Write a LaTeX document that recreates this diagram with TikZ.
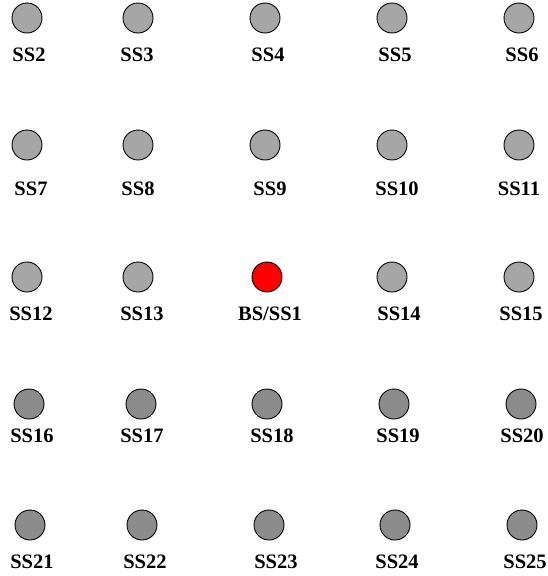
\documentclass[tikz,border=0pt]{standalone}
\usepackage{fontspec}
\setmainfont{Liberation Serif}
\begin{document}
\begin{tikzpicture}[x=1pt,y=-1pt,
  ss/.style={circle,draw=black,line width=0.9pt,fill=#1,minimum size=30pt,inner sep=0pt},
  lbl/.style={anchor=base,inner sep=0pt,font=\fontsize{20.5}{21}\selectfont\bfseries}]
\definecolor{lightss}{HTML}{A6A6A6}
\definecolor{darkss}{HTML}{8C8C8C}
\definecolor{bsred}{HTML}{FF0000}
\useasboundingbox (0,0) rectangle (548,576);
% row 1
\node[ss=lightss] (n2) at (27,18) {};
\node[ss=lightss] (n3) at (138,18) {};
\node[ss=lightss] (n4) at (265,18) {};
\node[ss=lightss] (n5) at (392,18) {};
\node[ss=lightss] (n6) at (519,18) {};
\node[lbl] (l2) at (29,61) {SS2};
\node[lbl] (l3) at (137,61) {SS3};
\node[lbl] (l4) at (268,61) {SS4};
\node[lbl] (l5) at (395,61) {SS5};
\node[lbl] (l6) at (522,61) {SS6};
% row 2
\node[ss=lightss] (n7) at (27,145) {};
\node[ss=lightss] (n8) at (138,145) {};
\node[ss=lightss] (n9) at (265,145) {};
\node[ss=lightss] (n10) at (392,145) {};
\node[ss=lightss] (n11) at (519,145) {};
\node[lbl] (l7) at (31,195) {SS7};
\node[lbl] (l8) at (138,195) {SS8};
\node[lbl] (l9) at (270,195) {SS9};
\node[lbl] (l10) at (397,195) {SS10};
\node[lbl] (l11) at (519,195) {SS11};
% row 3
\node[ss=lightss] (n12) at (27,277) {};
\node[ss=lightss] (n13) at (138,277) {};
\node[ss=bsred] (n1) at (267,277) {};
\node[ss=lightss] (n14) at (392,277) {};
\node[ss=lightss] (n15) at (519,277) {};
\node[lbl] (l12) at (31,320) {SS12};
\node[lbl] (l13) at (142,320) {SS13};
\node[lbl] (l1) at (270,320) {BS/SS1};
\node[lbl] (l14) at (399,320) {SS14};
\node[lbl] (l15) at (521,320) {SS15};
% row 4
\node[ss=darkss] (n16) at (29,404) {};
\node[ss=darkss] (n17) at (141,404) {};
\node[ss=darkss] (n18) at (267,404) {};
\node[ss=darkss] (n19) at (394,404) {};
\node[ss=darkss] (n20) at (521,404) {};
\node[lbl] (l16) at (32,442) {SS16};
\node[lbl] (l17) at (142,442) {SS17};
\node[lbl] (l18) at (272,442) {SS18};
\node[lbl] (l19) at (398,442) {SS19};
\node[lbl] (l20) at (522,442) {SS20};
% row 5
\node[ss=darkss] (n21) at (30,525) {};
\node[ss=darkss] (n22) at (142,525) {};
\node[ss=darkss] (n23) at (269,525) {};
\node[ss=darkss] (n24) at (395,525) {};
\node[ss=darkss] (n25) at (522,525) {};
\node[lbl] (l21) at (32,568) {SS21};
\node[lbl] (l22) at (145,568) {SS22};
\node[lbl] (l23) at (276,568) {SS23};
\node[lbl] (l24) at (397,568) {SS24};
\node[lbl] (l25) at (525,568) {SS25};
\end{tikzpicture}
\end{document}
